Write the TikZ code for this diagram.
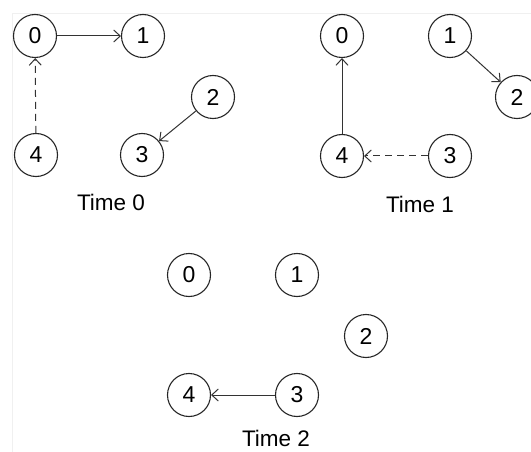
\documentclass[tikz,border=0pt]{standalone}
\usepackage{fontspec}
\setmainfont{Liberation Sans}
\usetikzlibrary{arrows.meta}
\begin{document}
\begin{tikzpicture}[x=1pt,y=-1pt,
  proc/.style={circle,draw=black!85,line width=1.1pt,minimum size=43pt,inner sep=0pt,
    font=\fontsize{23}{26}\selectfont},
  caption/.style={inner sep=0pt,anchor=base,font=\fontsize{22.5}{26}\selectfont},
  link/.style={draw=black!80,line width=1pt,-{Straight Barb[length=6.5pt,width=12pt]}},
  weak/.style={link,dashed,dash pattern=on 7pt off 5pt},
  frame/.style={draw=black!6,line width=0.8pt}]
\useasboundingbox (0,0) rectangle (531,452);
\fill[white] (0,0) rectangle (531,452);
\draw[frame] (12,452) -- (12,13) -- (531,13);

% Time 0
\node[proc] (a0) at (35,36) {0};
\node[proc] (a1) at (143,36) {1};
\node[proc] (a2) at (213,97) {2};
\node[proc] (a3) at (142,155) {3};
\node[proc] (a4) at (36,155) {4};
\node[caption] (ta) at (111,211) {Time 0};
\draw[link] (a0) -- (a1);
\draw[weak] (a4) -- (a0);
\draw[link] (a2) -- (a3);

% Time 1
\node[proc] (b0) at (342,36) {0};
\node[proc] (b1) at (450,36) {1};
\node[proc] (b2) at (517,97) {2};
\node[proc] (b3) at (450,156) {3};
\node[proc] (b4) at (342,156) {4};
\node[caption] (tb) at (420,212) {Time 1};
\draw[link] (b4) -- (b0);
\draw[weak] (b3) -- (b4);
\draw[link] (b1) -- (b2);

% Time 2
\node[proc] (c0) at (189,275) {0};
\node[proc] (c1) at (297,275) {1};
\node[proc] (c2) at (366,336) {2};
\node[proc] (c3) at (297,395) {3};
\node[proc] (c4) at (189,395) {4};
\node[caption] (tc) at (276,446) {Time 2};
\draw[link] (c3) -- (c4);
\end{tikzpicture}
\end{document}
